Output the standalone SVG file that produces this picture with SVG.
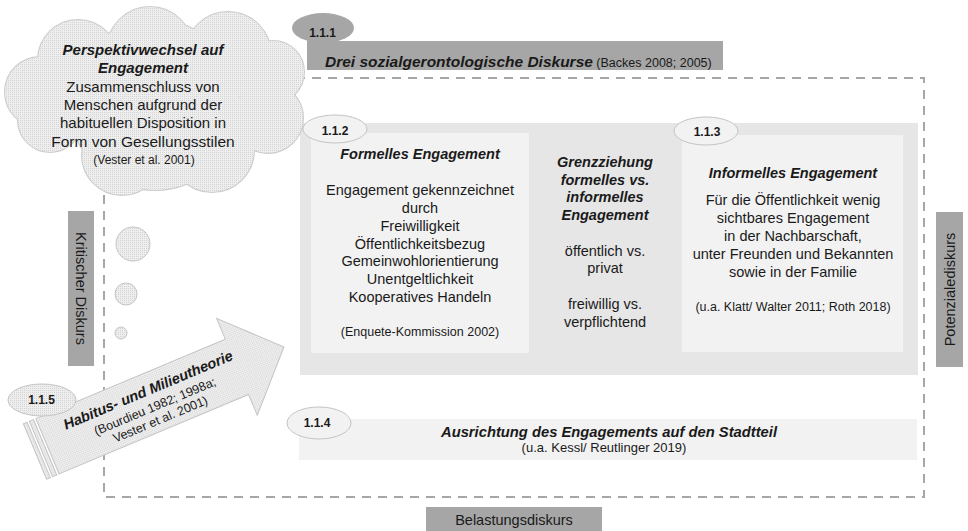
<svg xmlns="http://www.w3.org/2000/svg" width="968" height="531" viewBox="0 0 968 531">
<defs>
<pattern id="dots" width="2" height="2" patternUnits="userSpaceOnUse">
<rect width="2" height="2" fill="#eeeeee"/>
<rect width="1" height="1" fill="#d4d4d4"/>
</pattern>
<style>
text{font-family:"Liberation Sans",Arial,sans-serif;fill:#1a1a1a;}
.c{text-anchor:middle;}
.bi{font-weight:bold;font-style:italic;}
.b{font-weight:bold;}
.t{font-size:14.5px;}
.s{font-size:12.5px;}
.lab{font-size:12px;font-weight:bold;text-anchor:middle;}
.dash{fill:none;stroke:#a6a6a6;stroke-width:2;stroke-dasharray:9 7;}
.dark{fill:#a6a6a6;}
.bg{fill:#e6e6e6;}
.box{fill:#f2f2f2;}
.ell{fill:#f2f2f2;stroke:#c4c4c4;stroke-width:1;}
.tex{fill:url(#dots);stroke:#c4c4c4;stroke-width:1;}
</style>
</defs>
<rect width="968" height="531" fill="#ffffff"/>

<g id="connectors">
<rect class="dash" x="104" y="78" width="820" height="419"/>
</g>

<g id="frame-bg">
<rect class="bg" x="300" y="123" width="618" height="252"/>
</g>

<g id="n111">
<ellipse cx="323" cy="28" rx="31" ry="15" class="dark"/>
<rect class="dark" x="307" y="41" width="416" height="29"/>
<text x="322.5" y="37" class="lab">1.1.1</text>
<text x="325" y="67"><tspan class="bi" font-size="15.5">Drei sozialgerontologische Diskurse</tspan><tspan font-size="12.5"> (Backes 2008; 2005)</tspan></text>
</g>

<g id="n112">
<rect class="box" x="311" y="133" width="218" height="220"/>
<ellipse class="ell" cx="335" cy="129" rx="32" ry="14"/>
<text x="335" y="135" class="lab">1.1.2</text>
<text x="420" y="159" class="c bi t">Formelles Engagement</text>
<text x="420" y="195" class="c t">Engagement gekennzeichnet</text>
<text x="420" y="213" class="c t">durch</text>
<text x="420" y="231" class="c t">Freiwilligkeit</text>
<text x="420" y="248.5" class="c t">Öffentlichkeitsbezug</text>
<text x="420" y="266" class="c t">Gemeinwohlorientierung</text>
<text x="420" y="284" class="c t">Unentgeltlichkeit</text>
<text x="420" y="302" class="c t">Kooperatives Handeln</text>
<text x="420" y="336" class="c s">(Enquete-Kommission 2002)</text>
</g>

<g id="ngrenz">
<text x="605" y="167" class="c bi t">Grenzziehung</text>
<text x="605" y="185" class="c bi t">formelles vs.</text>
<text x="605" y="202" class="c bi t">informelles</text>
<text x="605" y="220" class="c bi t">Engagement</text>
<text x="605" y="256" class="c t">öffentlich vs.</text>
<text x="605" y="273" class="c t">privat</text>
<text x="605" y="309" class="c t">freiwillig vs.</text>
<text x="605" y="327" class="c t">verpflichtend</text>
</g>

<g id="n113">
<rect class="box" x="682" y="135" width="221" height="217"/>
<ellipse class="ell" cx="706" cy="131" rx="32" ry="14"/>
<text x="707" y="136" class="lab">1.1.3</text>
<text x="793" y="178" class="c bi t">Informelles Engagement</text>
<text x="793" y="205" class="c t">Für die Öffentlichkeit wenig</text>
<text x="793" y="223" class="c t">sichtbares Engagement</text>
<text x="793" y="241" class="c t">in der Nachbarschaft,</text>
<text x="793" y="259" class="c t">unter Freunden und Bekannten</text>
<text x="793" y="277" class="c t">sowie in der Familie</text>
<text x="793" y="311" class="c s">(u.a. Klatt/ Walter 2011; Roth 2018)</text>
</g>

<g id="n114">
<rect class="box" x="299" y="419" width="618" height="41"/>
<ellipse class="ell" cx="319" cy="423" rx="32" ry="16"/>
<text x="317" y="427" class="lab">1.1.4</text>
<text x="609" y="437" class="c bi" font-size="14.75">Ausrichtung des Engagements auf den Stadtteil</text>
<text x="604" y="452" class="c" font-size="13">(u.a. Kessl/ Reutlinger 2019)</text>
</g>

<g id="kritisch">
<rect class="dark" x="68" y="211" width="26" height="155"/>
<text transform="translate(81,288.5) rotate(90)" x="0" y="5" class="c t">Kritischer Diskurs</text>
</g>

<g id="potenzial">
<rect class="dark" x="936" y="212" width="27" height="155"/>
<text transform="translate(949.5,289.5) rotate(-90)" x="0" y="5" class="c t">Potenzialediskurs</text>
</g>

<g id="belastung">
<rect class="dark" x="426" y="507" width="176" height="26"/>
<text x="514" y="525" class="c t">Belastungsdiskurs</text>
</g>

<g id="cloud">
<g stroke="#cccccc" stroke-width="2" fill="#cccccc">
<circle cx="78" cy="60" r="40"/>
<circle cx="150" cy="50" r="43"/>
<circle cx="228" cy="55" r="43"/>
<circle cx="273" cy="72" r="31"/>
<circle cx="268" cy="118" r="35"/>
<circle cx="212" cy="150" r="42"/>
<circle cx="122" cy="155" r="40"/>
<circle cx="50" cy="120" r="32"/>
<circle cx="40" cy="92" r="35"/>
<circle cx="155" cy="105" r="85"/>
</g>
<g fill="url(#dots)">
<circle cx="78" cy="60" r="40"/>
<circle cx="150" cy="50" r="43"/>
<circle cx="228" cy="55" r="43"/>
<circle cx="273" cy="72" r="31"/>
<circle cx="268" cy="118" r="35"/>
<circle cx="212" cy="150" r="42"/>
<circle cx="122" cy="155" r="40"/>
<circle cx="50" cy="120" r="32"/>
<circle cx="40" cy="92" r="35"/>
<circle cx="155" cy="105" r="85"/>
</g>
<text x="143" y="55" class="c bi" font-size="15">Perspektivwechsel auf</text>
<text x="143" y="73" class="c bi" font-size="15">Engagement</text>
<text x="143" y="91.5" class="c" font-size="15">Zusammenschluss von</text>
<text x="143" y="110" class="c" font-size="15">Menschen aufgrund der</text>
<text x="143" y="128" class="c" font-size="15">habituellen Disposition in</text>
<text x="143" y="147" class="c" font-size="15.5">Form von Gesellungsstilen</text>
<text x="144" y="164" class="c" font-size="12">(Vester et al. 2001)</text>
<circle class="tex" cx="133" cy="244" r="17"/>
<circle class="tex" cx="126" cy="294" r="11"/>
<circle class="tex" cx="121" cy="333" r="6"/>
</g>

<g id="n115">
<g transform="translate(35,451.5) rotate(-22.76)">
<rect class="tex" x="0" y="-30" width="4" height="60"/>
<rect class="tex" x="6.5" y="-30" width="4.5" height="60"/>
<polygon class="tex" points="13.5,-30 219,-30 219,-52.5 270,0 219,52.5 219,30 13.5,30"/>
<text x="128" y="-8" class="c bi t">Habitus- und Milieutheorie</text>
<text x="128" y="9" class="c" font-size="12.5">(Bourdieu 1982; 1998a;</text>
<text x="128" y="23" class="c" font-size="12.5">Vester et al. 2001)</text>
</g>
<ellipse class="tex" cx="42" cy="400" rx="34" ry="16"/>
<text x="41.5" y="404" class="lab">1.1.5</text>
</g>
</svg>
